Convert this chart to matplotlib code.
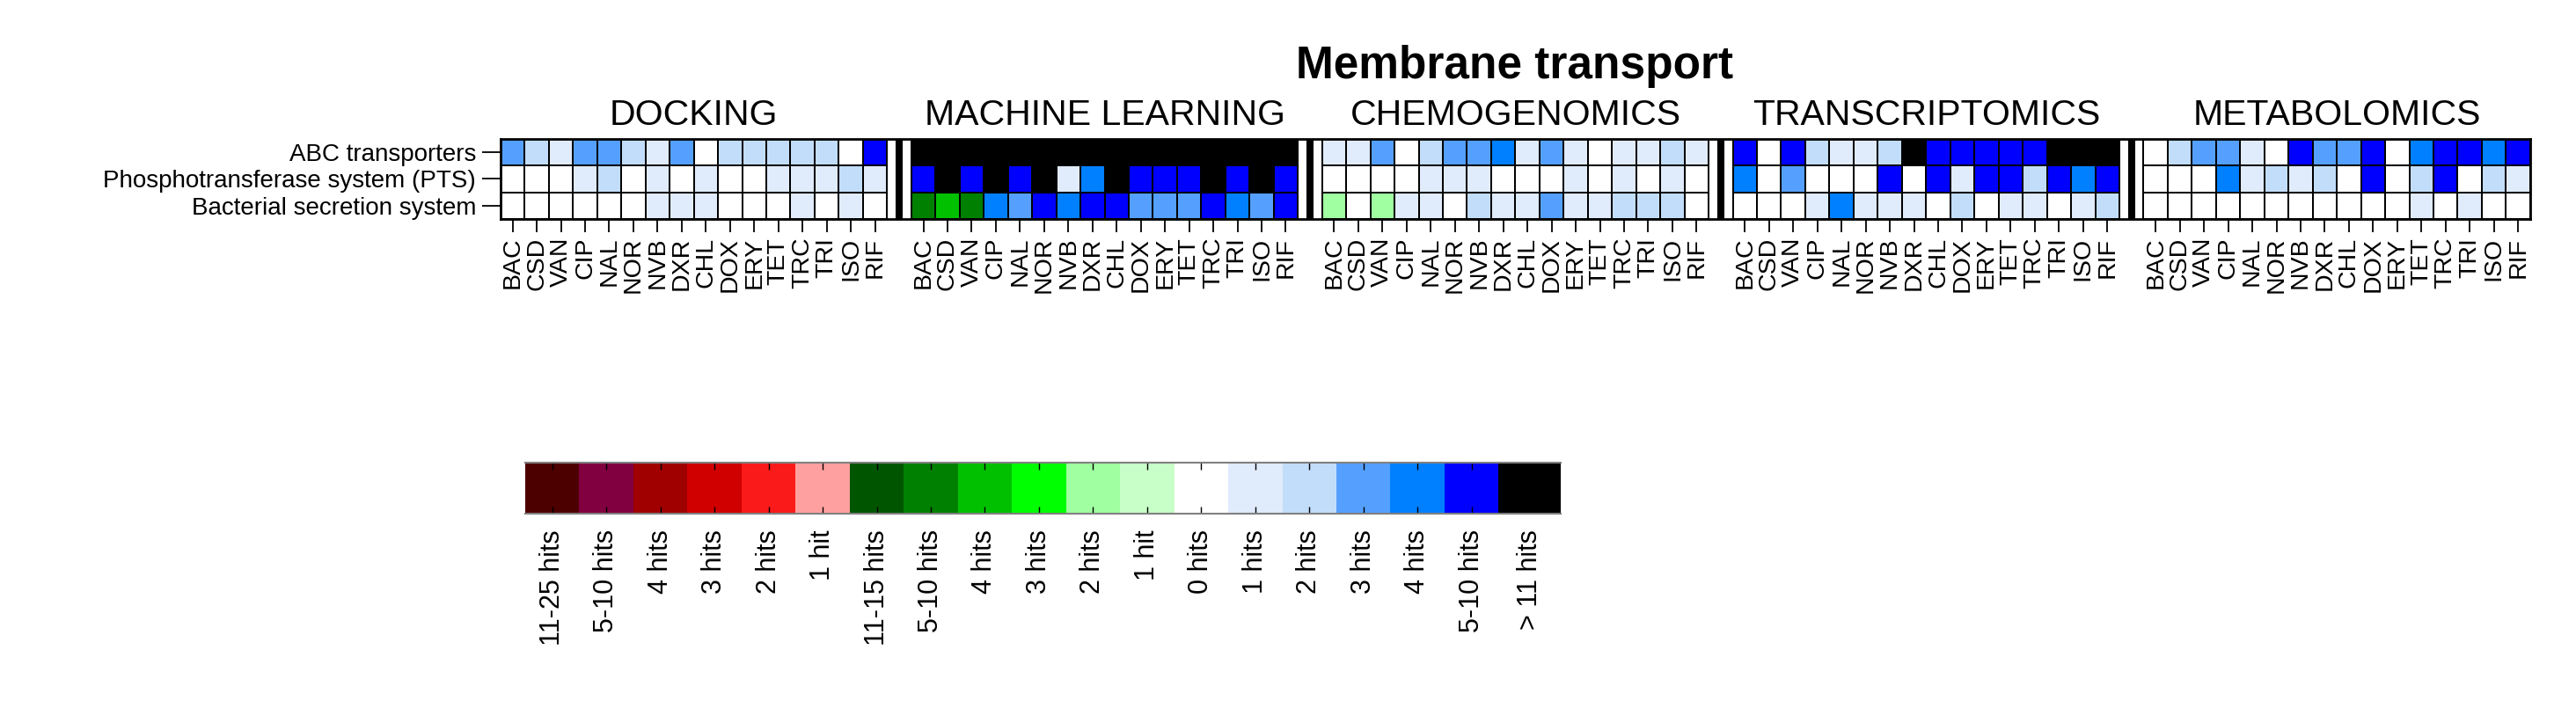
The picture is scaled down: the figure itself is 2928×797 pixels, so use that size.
import numpy as np
import matplotlib
matplotlib.use('Agg')
import matplotlib.pyplot as plt
from matplotlib.colors import ListedColormap, BoundaryNorm

plt.rcParams['font.family'] = ['Liberation Sans', 'DejaVu Sans']

# DATA #
# legend classes (index = value used in the panels below)
legend_labels = ['11-25 hits', '5-10 hits', '4 hits', '3 hits', '2 hits', '1 hit',
                 '11-15 hits', '5-10 hits', '4 hits', '3 hits', '2 hits', '1 hit',
                 '0 hits', '1 hits', '2 hits', '3 hits', '4 hits', '5-10 hits',
                 '> 11 hits']
legend_colors = ['#4c0000', '#800040', '#a00000', '#d00000', '#fa1a1a', '#ffa0a0',
                 '#005500', '#008000', '#00c000', '#00ff00', '#a0ffa0', '#c8ffc8',
                 '#ffffff', '#e0ebfb', '#c2ddfa', '#55a0ff', '#0080ff', '#0000ff',
                 '#000000']

drugs = ['BAC', 'CSD', 'VAN', 'CIP', 'NAL', 'NOR', 'NVB', 'DXR',
         'CHL', 'DOX', 'ERY', 'TET', 'TRC', 'TRI', 'ISO', 'RIF']
pathways = ['ABC transporters', 'Phosphotransferase system (PTS)',
            'Bacterial secretion system']
panels = ['DOCKING', 'MACHINE LEARNING', 'CHEMOGENOMICS',
          'TRANSCRIPTOMICS', 'METABOLOMICS']

docking = [[15, 14, 13, 15, 15, 14, 13, 15, 12, 14, 14, 14, 14, 14, 12, 17],
           [12, 12, 12, 13, 14, 12, 13, 12, 13, 12, 12, 13, 13, 13, 14, 13],
           [12, 12, 12, 12, 12, 12, 13, 13, 13, 12, 12, 12, 13, 12, 13, 12]]
machine_learning = [[18, 18, 18, 18, 18, 18, 18, 18, 18, 18, 18, 18, 18, 18, 18, 18],
                    [17, 18, 17, 18, 17, 18, 13, 16, 18, 17, 17, 17, 18, 17, 18, 17],
                    [7, 8, 7, 16, 15, 17, 16, 17, 17, 15, 15, 15, 17, 16, 15, 17]]
chemogenomics = [[13, 13, 15, 12, 14, 15, 15, 16, 13, 15, 13, 12, 13, 13, 14, 13],
                 [12, 12, 12, 12, 13, 13, 13, 12, 12, 12, 13, 12, 13, 12, 13, 12],
                 [10, 12, 10, 13, 13, 12, 14, 13, 13, 15, 13, 13, 14, 14, 14, 12]]
transcriptomics = [[17, 12, 17, 14, 13, 13, 14, 18, 17, 17, 17, 17, 17, 18, 18, 18],
                   [16, 12, 15, 12, 12, 12, 17, 12, 17, 13, 17, 17, 14, 17, 16, 17],
                   [12, 12, 12, 13, 16, 13, 13, 13, 12, 14, 12, 13, 13, 12, 13, 14]]
metabolomics = [[12, 14, 15, 15, 13, 12, 17, 15, 15, 17, 12, 16, 17, 17, 16, 17],
                [12, 12, 12, 16, 13, 14, 13, 14, 12, 17, 12, 14, 17, 12, 14, 13],
                [12, 12, 12, 12, 12, 12, 12, 12, 12, 12, 12, 13, 12, 13, 12, 12]]

panel_data = [docking, machine_learning, chemogenomics, transcriptomics, metabolomics]

cmap = ListedColormap(legend_colors)
norm = BoundaryNorm(np.arange(-0.5, len(legend_colors)), len(legend_colors))

# FIGURE #
fig = plt.figure(figsize=(29.28, 7.97), dpi=100)

# heatmap: 16 columns per panel + 1 separator column between panels
ax = fig.add_axes([0.1943, 0.6876, 0.7879, 0.1142])
ncol = len(drugs)
xticks, xlabels = [], []
for i, (name, data) in enumerate(zip(panels, panel_data)):
    x0 = i * (ncol + 1)
    ax.pcolormesh(np.arange(x0, x0 + ncol + 1), np.arange(len(pathways) + 1),
                  np.array(data), cmap=cmap, norm=norm,
                  edgecolors='black', linewidth=1.3)
    xticks += list(x0 + np.arange(ncol) + 0.5)
    xlabels += drugs
    ax.text(x0 + ncol / 2, 1.176, name, transform=ax.get_xaxis_transform(),
            ha='center', va='baseline', fontsize=29.5)
    if i > 0:
        ax.axvline(x0 - 0.5, color='black', lw=5.8)

n_total = len(panels) * (ncol + 1) - 1
ax.set_xlim(0, n_total)
ax.set_ylim(len(pathways), 0)
ax.set_xticks(xticks)
ax.set_xticklabels(xlabels, rotation=90, fontsize=20.5, va='top')
ax.set_yticks(np.arange(len(pathways)) + 0.5)
ax.set_yticklabels(pathways, fontsize=20)
ax.tick_params(axis='x', length=11, width=1.3, pad=4)
ax.tick_params(axis='y', length=15, width=1.3, pad=5)
for s in ax.spines.values():
    s.set_linewidth(2)

fig.text(0.588, 0.8887, 'Membrane transport', ha='center', va='baseline',
         fontsize=37, fontweight='bold')

# colour key, last block a bit wider
cax = fig.add_axes([0.2039, 0.2673, 0.4020, 0.0727])
edges = list(np.arange(len(legend_colors))) + [len(legend_colors) - 1 + 1.15]
cax.pcolormesh(edges, [0, 1], np.arange(len(legend_colors))[None, :],
               cmap=cmap, norm=norm)
centers = [(edges[k] + edges[k + 1]) / 2 for k in range(len(legend_colors))]
cax.set_xlim(edges[0], edges[-1])
cax.set_ylim(0, 1)
cax.set_xticks(centers)
cax.set_xticklabels(legend_labels, rotation=90, fontsize=22, va='top')
cax.set_yticks([])
cax.tick_params(axis='x', direction='in', top=True, bottom=True,
                length=6, width=1, pad=13)
for side in ['left', 'right']:
    cax.spines[side].set_visible(False)
for side in ['top', 'bottom']:
    cax.spines[side].set_color('#808080')
    cax.spines[side].set_linewidth(1.5)

fig.savefig('out.png', dpi=100)
